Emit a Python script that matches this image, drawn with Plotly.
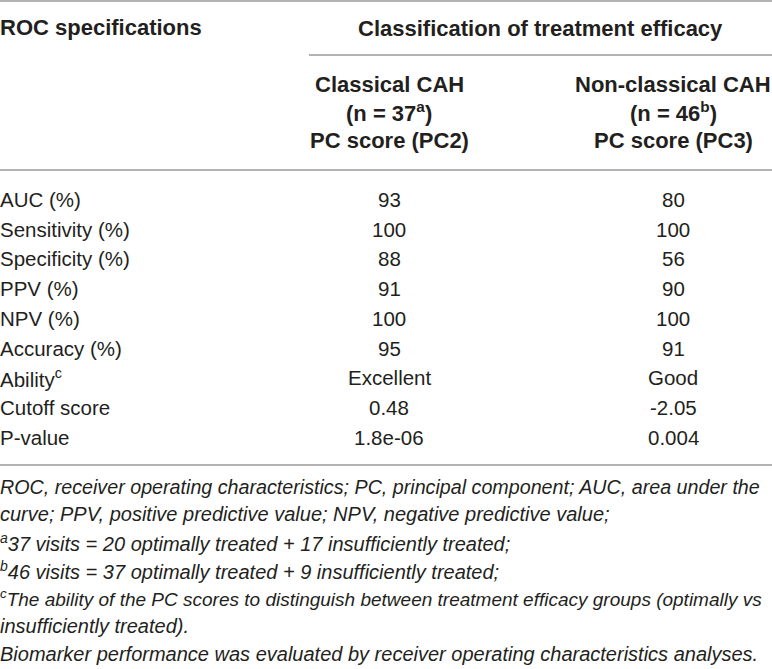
import plotly.graph_objects as go

# table content
row_labels = ["AUC (%)", "Sensitivity (%)", "Specificity (%)", "PPV (%)", "NPV (%)",
              "Accuracy (%)", "Ability<sup>c</sup>", "Cutoff score", "P-value"]
classical = ["93", "100", "88", "91", "100", "95", "Excellent", "0.48", "1.8e-06"]
non_classical = ["80", "100", "56", "90", "100", "91", "Good", "-2.05", "0.004"]

stub_header = "ROC specifications"
group_header = "Classification of treatment efficacy"
col_headers = [
    ["Classical CAH", "(n = 37<sup>a</sup>)", "PC score (PC2)"],
    ["Non-classical CAH", "(n = 46<sup>b</sup>)", "PC score (PC3)"],
]

footnotes = [
    "ROC, receiver operating characteristics; PC, principal component; AUC, area under the",
    "curve; PPV, positive predictive value; NPV, negative predictive value;",
    "<sup>a</sup>37 visits = 20 optimally treated + 17 insufficiently treated;",
    "<sup>b</sup>46 visits = 37 optimally treated + 9 insufficiently treated;",
    "<sup>c</sup>The ability of the PC scores to distinguish between treatment efficacy groups (optimally vs",
    "insufficiently treated).",
    "Biomarker performance was evaluated by receiver operating characteristics analyses.",
]
foot_sizes = [19.7, 20, 20, 20, 19.0, 20, 20]

W, H = 772, 669
TXT = "#231f20"
RULE = "#9a9a9a"
FONT = "Liberation Sans"

# layout in pixels
col_x = [389, 673]
row_y0, row_dy = 199.5, 29.7
head_y = [84.5, 112, 140]
foot_y0, foot_dy = 486.5, 27.9

fig = go.Figure()

def txt(x, y, s, anchor="center", size=20.5, bold=False, italic=False):
    fig.add_annotation(
        x=x, y=y, text=s, showarrow=False, xanchor=anchor, yanchor="middle",
        xshift=-2 if anchor == "left" else 0,
        font=dict(family=FONT, size=size, color=TXT,
                  weight="bold" if bold else "normal",
                  style="italic" if italic else "normal"),
    )

# header
txt(0, 27.5, stub_header, anchor="left", size=22, bold=True)
txt(540, 28.5, group_header, size=22, bold=True)
for cx, lines in zip(col_x, col_headers):
    for y, s in zip(head_y, lines):
        txt(cx, y, s, size=22, bold=True)

# body
for i, lab in enumerate(row_labels):
    y = row_y0 + i * row_dy
    txt(0, y, lab, anchor="left")
    txt(col_x[0], y, classical[i])
    txt(col_x[1], y, non_classical[i])

# footnotes
for i, s in enumerate(footnotes):
    y = foot_y0 + i * foot_dy
    txt(0, y, s, anchor="left", size=foot_sizes[i], italic=True)

# rules
for x0, y in [(0, 1), (309, 55), (0, 170), (0, 465)]:
    fig.add_shape(type="line", x0=x0, x1=W, y0=y, y1=y,
                  line=dict(color=RULE, width=1.5))

fig.update_layout(
    width=W, height=H,
    margin=dict(l=0, r=0, t=0, b=0),
    paper_bgcolor="white", plot_bgcolor="white",
    xaxis=dict(range=[0, W], visible=False, fixedrange=True),
    yaxis=dict(range=[H, 0], visible=False, fixedrange=True),
    showlegend=False,
)

# drop the default 8px page margin so the table sits in the corner
fig.write_html("out.html", config={"displayModeBar": False},
               post_script="document.body.style.margin='0';")
